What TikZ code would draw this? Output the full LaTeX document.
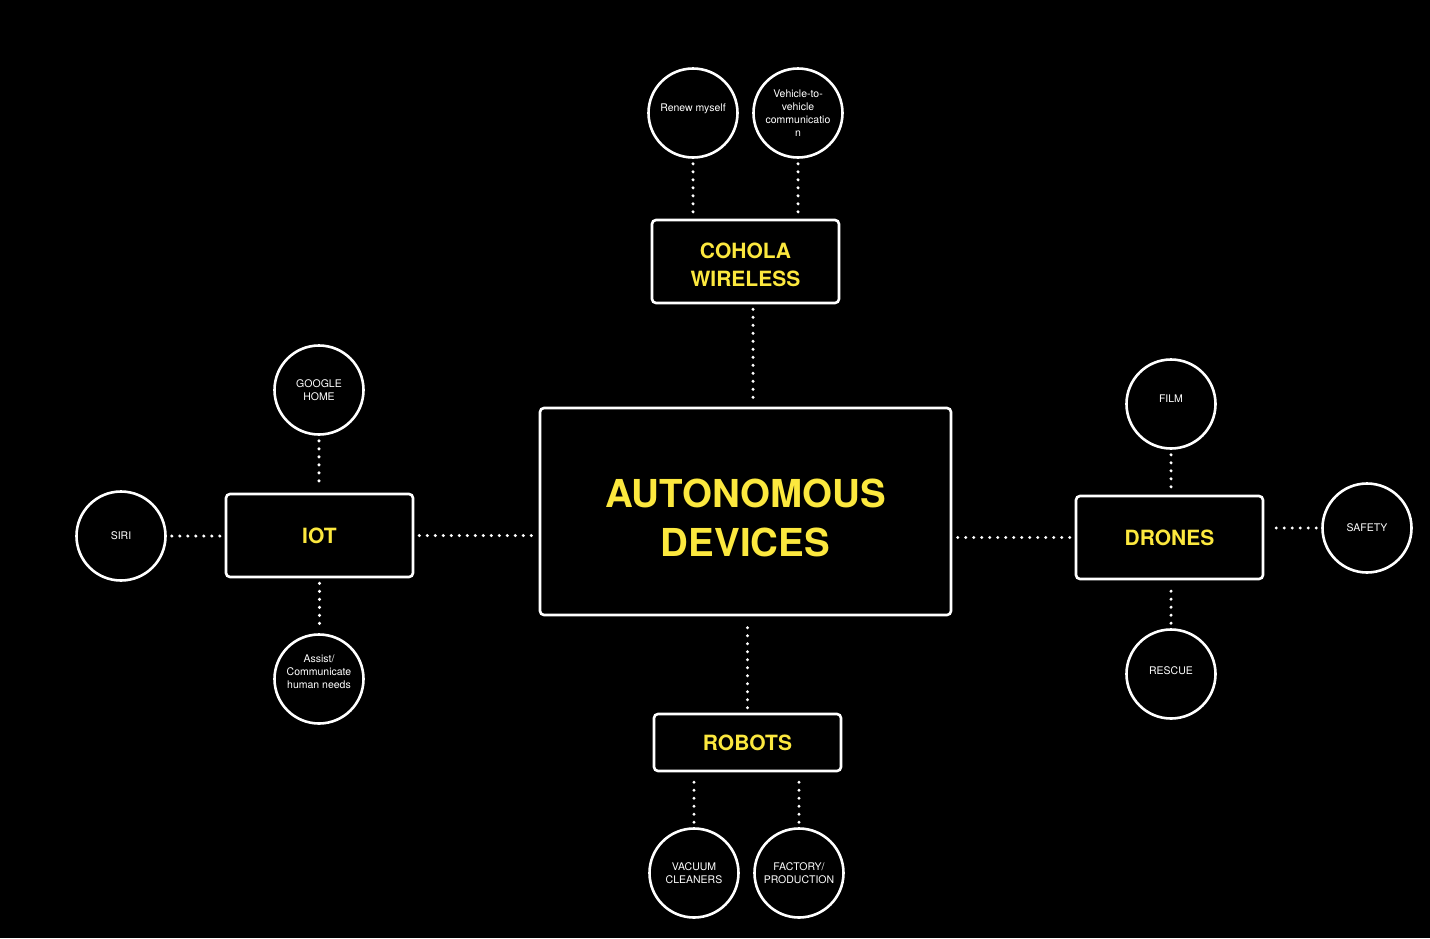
\documentclass[tikz,border=0pt]{standalone}
\usepackage{fontspec}
\setmainfont{TeX Gyre Heros}
\definecolor{ylw}{RGB}{252,232,62}
\begin{document}
\begin{tikzpicture}[x=1pt,y=-1pt,
  box/.style={draw=white, line width=2.6pt, rounded corners=4pt, fill=black, text=ylw,
    font=\bfseries\fontsize{21}{28}\selectfont, align=center, inner sep=0pt},
  bigtext/.style={text=ylw, font=\bfseries\fontsize{38.5}{49}\selectfont, align=center, inner sep=0pt},
  circ/.style={circle, draw=white, line width=2.6pt, minimum size=89pt, inner sep=0pt,
    text=white, font=\fontsize{10.5}{13}\selectfont, align=center},
  ctext/.style={text=white, font=\fontsize{10.5}{13}\selectfont, align=center, inner sep=0pt},
  dots/.style={draw=white, line width=3.4pt, line cap=round, dash pattern=on 0pt off 8pt,
    shorten <=5pt, shorten >=4pt}]
\useasboundingbox[fill=black] (0,0) rectangle (1430,938);

% main boxes
\node[box, minimum width=411pt, minimum height=207pt,
  label={[bigtext, yshift=-6pt]center:AUTONOMOUS\\DEVICES}] (central) at (745.5,511.5) {};
\node[box, minimum width=187pt, minimum height=83pt,
  label={[box, draw=none, fill=none, yshift=-3pt]center:COHOLA\\WIRELESS}] (cohola) at (745.5,261.5) {};
\node[box, minimum width=187pt, minimum height=83pt] (iot) at (319.5,535.5) {IOT};
\node[box, minimum width=187pt, minimum height=83pt] (drones) at (1169.5,537.5) {DRONES};
\node[box, minimum width=187pt, minimum height=57pt] (robots) at (747.5,742.5) {ROBOTS};

% circles
\node[circ, label={[ctext, yshift=4pt]center:Renew myself}] (renew) at (693,113) {};
\node[circ] (vehicle) at (798,113) {Vehicle-to-\\vehicle\\communicatio\\n};
\node[circ] (google) at (319,390) {GOOGLE\\HOME};
\node[circ] (siri) at (121,536) {SIRI};
\node[circ, label={[ctext, yshift=7pt]center:Assist/\\Communicate\\human needs}] (assist) at (319,679) {};
\node[circ, label={[ctext, yshift=5pt]center:FILM}] (film) at (1171,404) {};
\node[circ] (safety) at (1367,528) {SAFETY};
\node[circ, label={[ctext, yshift=3pt]center:RESCUE}] (rescue) at (1171,674) {};
\node[circ] (vacuum) at (694,873) {VACUUM\\CLEANERS};
\node[circ] (factory) at (799,873) {FACTORY/\\PRODUCTION};

% connectors
\draw[dots] (renew.south) -- (renew.south |- cohola.north);
\draw[dots] (vehicle.south) -- (vehicle.south |- cohola.north);
\draw[dots] ([xshift=7.5pt]cohola.south) -- ([xshift=7.5pt]cohola.south |- central.north);
\draw[dots] (google.south) -- (google.south |- iot.north);
\draw[dots] (siri.east) -- (siri.east -| iot.west);
\draw[dots] (iot.east) -- (iot.east -| central.west);
\draw[dots] (iot.south) -- (iot.south |- assist.north);
\draw[dots] (drones.west) -- (drones.west -| central.east);
\draw[dots] (film.south) -- (film.south |- drones.north);
\draw[dots] (safety.west) -- (safety.west -| drones.east);
\draw[dots] (rescue.north) -- (rescue.north |- drones.south);
\draw[dots] (robots.north) -- (robots.north |- central.south);
\draw[dots] (vacuum.north) -- (vacuum.north |- robots.south);
\draw[dots] (factory.north) -- (factory.north |- robots.south);
\end{tikzpicture}
\end{document}
